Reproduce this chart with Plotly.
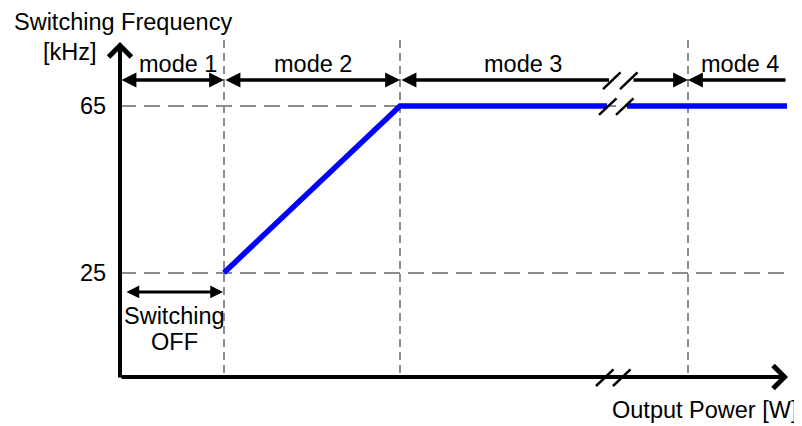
import plotly.graph_objects as go

# power axis in arbitrary units (0 = origin), frequency in kHz
mode_edges = [0, 1.04, 2.80, 5.68, 6.67]
mode_names = ["mode 1", "mode 2", "mode 3", "mode 4"]
mode_label_x = [0.58, 1.93, 4.03, 6.20]
mode3_split = [4.89, 5.12]          # gap in the mode 3 arrow at the axis break

power_x = [1.04, 2.80, 4.87, None, 5.07, 6.67]
freq_khz = [25, 65, 65, None, 65, 65]
freq_ticks = [25, 65]

break_x = [5.01, 4.97, 4.94]        # break marks: mode row, curve, x axis

mode_row_y = 71.2
off_row_y = 20.4
off_x = [0.05, 1.03]
y_top = 80.8
y_arrow = 80.32
x_arrow = 6.68

FONT = dict(family="Liberation Sans, Arial, sans-serif", size=23.5, color="black")


def arrow(x0, x1, y, side, width=3.5):
    return dict(x=x1, y=y, ax=x0, ay=y, xref="x", yref="y", axref="x", ayref="y",
                text="", showarrow=True, arrowside=side,
                arrowhead=2, startarrowhead=2, arrowsize=0.85, startarrowsize=0.85,
                arrowwidth=width, arrowcolor="black")


def slash(xc, y, dx):
    return dict(x=xc, y=y, xref="x", yref="y", xshift=dx - 9.5, yshift=-9,
                ax=19, ay=-18, axref="pixel", ayref="pixel", text="",
                showarrow=True, arrowhead=0, arrowwidth=2.5, arrowcolor="black")


def label(txt, x, y, xref="x", yref="y", xanchor="center", xshift=0):
    return dict(x=x, y=y, xref=xref, yref=yref, text=txt, showarrow=False,
                xanchor=xanchor, yanchor="middle", xshift=xshift, font=FONT)


fig = go.Figure()
fig.add_trace(go.Scatter(x=power_x, y=freq_khz, mode="lines",
                         line=dict(color="#0000ff", width=5.5), hoverinfo="skip"))

ann = []
# axes with open arrow heads
ann.append(dict(x=0, y=y_arrow, ax=0, ay=-0.48, xref="x", yref="y", axref="x", ayref="y",
                text="", showarrow=True, arrowhead=4, arrowsize=1.1, arrowwidth=4,
                arrowcolor="black"))
ann.append(dict(x=x_arrow, y=0, ax=0, ay=0, xref="x", yref="y", axref="x", ayref="y",
                text="", showarrow=True, arrowhead=4, arrowsize=1.1, arrowwidth=4,
                arrowcolor="black"))

# frequency tick labels
for t in freq_ticks:
    ann.append(label(str(t), 0, t, xanchor="right", xshift=-12))

# mode arrows
ann.append(arrow(mode_edges[0], mode_edges[1], mode_row_y, "end+start"))
ann.append(arrow(mode_edges[1], mode_edges[2], mode_row_y, "end+start"))
ann.append(arrow(mode_edges[2], mode3_split[0], mode_row_y, "start"))
ann.append(arrow(mode3_split[1], mode_edges[3], mode_row_y, "end"))
ann.append(arrow(mode_edges[4], mode_edges[3], mode_row_y, "end"))
for name, lx in zip(mode_names, mode_label_x):
    ann.append(label(name, lx, 75.07))

# switching off region
ann.append(arrow(off_x[0], off_x[1], off_row_y, "end+start", width=3))
ann.append(label("Switching", 0.54, 14.6))
ann.append(label("OFF", 0.54, 8.4))

# break marks
for bx, by in zip(break_x, [mode_row_y, 65, 0]):
    ann.append(slash(bx, by, -8.5))
    ann.append(slash(bx, by, 8.5))

# axis titles
ann.append(label("Switching Frequency", -0.162, 1.0537, "paper", "paper", "left"))
ann.append(label("[kHz]", -0.0757, 0.9644, "paper", "paper"))
ann.append(label("Output Power [W]", 0.8756, -0.0979, "paper", "paper"))

# page body keeps an 8px margin, so the figure is 8px smaller on each axis
fig.update_layout(
    template="none",
    width=794, height=418,
    margin=dict(l=112, r=15, t=32, b=49),
    paper_bgcolor="white", plot_bgcolor="white",
    showlegend=False,
    font=FONT,
    annotations=ann,
    xaxis=dict(range=[0, mode_edges[4]], tickvals=mode_edges[1:4], showticklabels=False,
               ticks="", showgrid=True, gridcolor="#8c8c8c", gridwidth=2,
               griddash="8px,5px", zeroline=False, showline=False, automargin=False),
    yaxis=dict(range=[0, y_top], tickvals=freq_ticks, showticklabels=False, ticks="",
               showgrid=True, gridcolor="#8c8c8c", gridwidth=2,
               griddash="16px,8px", zeroline=False, showline=False, automargin=False),
)

fig.write_html("out.html")
